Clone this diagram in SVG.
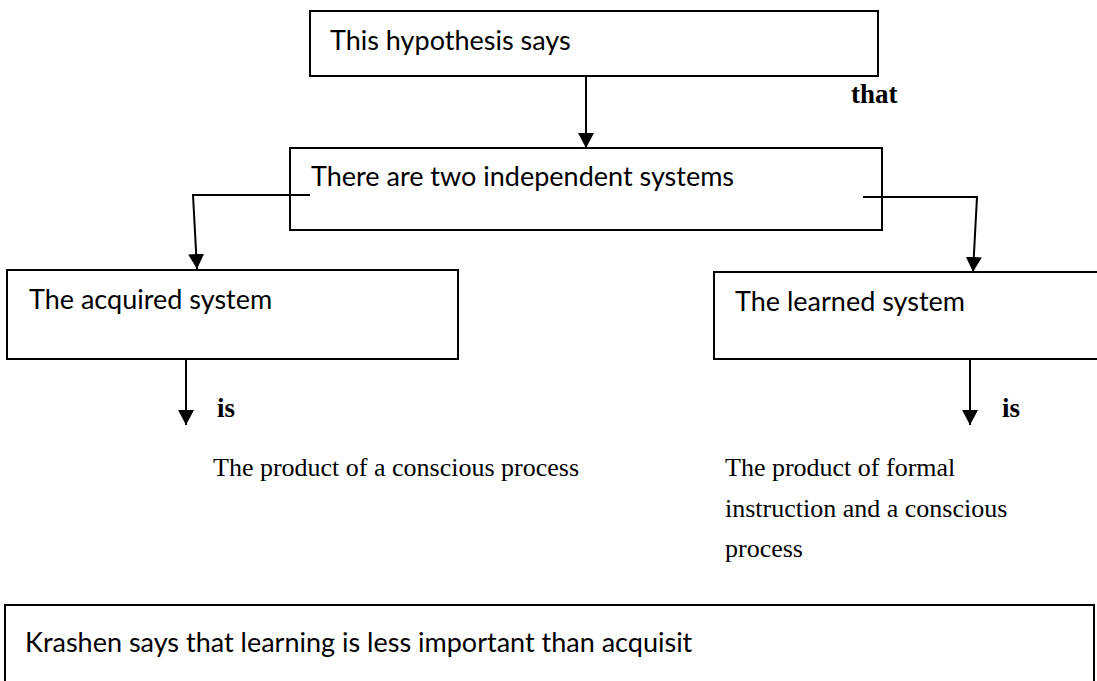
<svg xmlns="http://www.w3.org/2000/svg" width="1097" height="681" viewBox="0 0 1097 681">
<style>
.box{fill:#fff;stroke:#000;stroke-width:2}
.lbl{font-family:Lato,"Open Sans",sans-serif;font-size:27px;fill:#000}
.ser{font-family:"Liberation Serif","Times New Roman",serif;font-size:26px;fill:#000}
.bold{font-family:"Liberation Serif","Times New Roman",serif;font-size:27px;font-weight:bold;fill:#000}
.con{fill:none;stroke:#000;stroke-width:2}
</style>
<defs>
<marker id="ah" markerUnits="userSpaceOnUse" markerWidth="16" markerHeight="16" viewBox="0 0 16 16" refX="15" refY="8" orient="auto">
<path d="M0,0 L15,8 L0,16 Z" fill="#000"/>
</marker>
</defs>
<rect width="1097" height="681" fill="#fff"/>
<g id="n1"><rect class="box" x="310" y="11" width="568" height="65"/><text class="lbl" x="330" y="50">This hypothesis says</text></g>
<g id="n2"><rect class="box" x="290" y="148" width="592" height="82"/><text class="lbl" x="311" y="186">There are two independent systems</text></g>
<g id="n3"><rect class="box" x="7" y="270" width="451" height="89"/><text class="lbl" x="29" y="309">The acquired system</text></g>
<g id="n4"><rect class="box" x="714" y="272" width="400" height="87"/><text class="lbl" x="735" y="311">The learned system</text></g>
<g id="n5"><text class="ser" x="213" y="476">The product of a conscious process</text></g>
<g id="n6"><text class="ser" x="725" y="476">The product of formal</text><text class="ser" x="725" y="517">instruction and a conscious</text><text class="ser" x="725" y="557">process</text></g>
<g id="n7"><rect class="box" x="5" y="605" width="1089" height="100"/><text class="lbl" x="25" y="652">Krashen says that learning is less important than acquisit</text></g>
<g id="connectors">
<line class="con" x1="586" y1="76" x2="586" y2="148" marker-end="url(#ah)"/>
<polyline class="con" points="310,195 193,195 197,269" marker-end="url(#ah)"/>
<polyline class="con" points="863,197 977,197 973,272" marker-end="url(#ah)"/>
<line class="con" x1="186" y1="359" x2="186" y2="425" marker-end="url(#ah)"/>
<line class="con" x1="970" y1="359" x2="970" y2="425" marker-end="url(#ah)"/>
<text class="bold" x="851" y="103">that</text>
<text class="bold" x="217" y="417">is</text>
<text class="bold" x="1002" y="417">is</text>
</g>
</svg>
